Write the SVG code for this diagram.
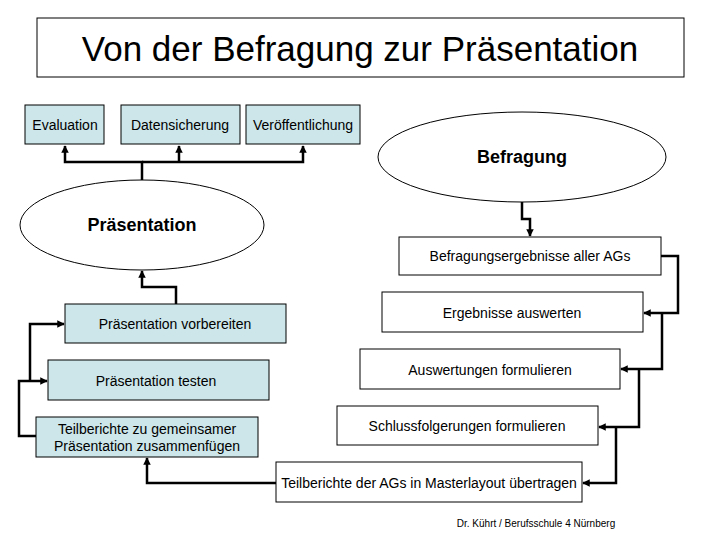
<svg xmlns="http://www.w3.org/2000/svg" width="720" height="540" viewBox="0 0 720 540">
<style>
text{font-family:"Liberation Sans",Arial,sans-serif;fill:#000}
.b{fill:#cce6ea;stroke:#000;stroke-width:1}
.w{fill:#fff;stroke:#000;stroke-width:1}
.t{font-size:14px;text-anchor:middle}
.c{fill:none;stroke:#000;stroke-width:2.5}
</style>
<defs><marker id="a" viewBox="0 0 10 10" refX="9" refY="5" markerWidth="3" markerHeight="3" orient="auto"><path d="M0,0L10,5L0,10z" fill="#000"/></marker></defs>
<rect width="720" height="540" fill="#fff"/>
<g id="title"><rect x="37" y="18" width="647" height="59" class="w"/><text x="360" y="61" style="font-size:35px;text-anchor:middle">Von der Befragung zur Präsentation</text></g>
<g id="evaluation"><rect x="25" y="105" width="79" height="39" class="b"/><text x="65" y="130" class="t">Evaluation</text></g>
<g id="datensicherung"><rect x="121" y="105" width="119" height="39" class="b"/><text x="180" y="130" class="t">Datensicherung</text></g>
<g id="veroeffentlichung"><rect x="246" y="105" width="114" height="39" class="b"/><text x="303" y="130" class="t">Veröffentlichung</text></g>
<g id="praesentation"><ellipse cx="142" cy="225" rx="122" ry="45" class="w"/><text x="142" y="231" style="font-size:18px;font-weight:bold;text-anchor:middle">Präsentation</text></g>
<g id="befragung"><ellipse cx="522" cy="157" rx="144" ry="45" class="w"/><text x="522" y="163" style="font-size:18px;font-weight:bold;text-anchor:middle">Befragung</text></g>
<g id="n1"><rect x="399" y="237" width="262" height="38" class="w"/><text x="530" y="261" class="t">Befragungsergebnisse aller AGs</text></g>
<g id="n2"><rect x="382" y="292" width="261" height="40" class="w"/><text x="512" y="318" class="t">Ergebnisse auswerten</text></g>
<g id="n3"><rect x="360" y="349" width="260" height="40" class="w"/><text x="490" y="375" class="t">Auswertungen formulieren</text></g>
<g id="n4"><rect x="337" y="406" width="261" height="39" class="w"/><text x="467" y="431" class="t">Schlussfolgerungen formulieren</text></g>
<g id="n5"><rect x="276" y="462" width="306" height="40" class="w"/><text x="429" y="488" class="t">Teilberichte der AGs in Masterlayout übertragen</text></g>
<g id="pv"><rect x="65" y="304" width="221" height="39" class="b"/><text x="175" y="329" class="t">Präsentation vorbereiten</text></g>
<g id="pt"><rect x="48" y="360" width="221" height="40" class="b"/><text x="156" y="386" class="t">Präsentation testen</text></g>
<g id="tz"><rect x="36" y="417" width="222" height="40" class="b"/><text x="147" y="434" class="t">Teilberichte zu gemeinsamer</text><text x="147" y="451" class="t">Präsentation zusammenfügen</text></g>
<g id="connectors">
<path class="c" d="M142,180V162H65V146" marker-end="url(#a)"/>
<path class="c" d="M179,162V146" marker-end="url(#a)"/>
<path class="c" d="M142,162H303V146" marker-end="url(#a)"/>
<path class="c" d="M522,202V219H530V236" marker-end="url(#a)"/>
<path class="c" d="M661,256H678V313H644" marker-end="url(#a)"/>
<path class="c" d="M662,313V369H621" marker-end="url(#a)"/>
<path class="c" d="M639,369V427H599" marker-end="url(#a)"/>
<path class="c" d="M616,427V483H583" marker-end="url(#a)"/>
<path class="c" d="M276,483H147V458" marker-end="url(#a)"/>
<path class="c" d="M36,436H19V381H47" marker-end="url(#a)"/>
<path class="c" d="M30,381V324H64" marker-end="url(#a)"/>
<path class="c" d="M176,304V287H142V271" marker-end="url(#a)"/>
</g>
<text x="536" y="527" style="font-size:10px;text-anchor:middle">Dr. Kührt / Berufsschule 4 Nürnberg</text>
</svg>
